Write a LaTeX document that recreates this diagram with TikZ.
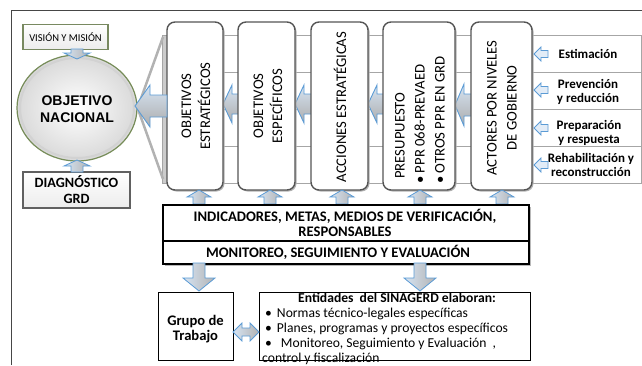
\documentclass[tikz,border=0pt]{standalone}
\usepackage{fontspec}
\setmainfont{Carlito}
\newfontfamily\arialf{Liberation Sans}
\usetikzlibrary{shadows,shapes.geometric}
\definecolor{arrblue}{RGB}{91,155,213}
\definecolor{arrlight}{RGB}{214,228,243}
\definecolor{colborder}{RGB}{85,85,85}
\definecolor{circborder}{RGB}{118,140,88}
\definecolor{framegray}{RGB}{70,70,70}
\newcommand\myHarrow[7]{% style, tip x, centre y, length, head length, head half, shaft half
  \path[#1] (#2,#3) -- ({#2+#5},{#3-#6}) -- ({#2+#5},{#3-#7}) -- ({#2+#4},{#3-#7})
    -- ({#2+#4},{#3+#7}) -- ({#2+#5},{#3+#7}) -- ({#2+#5},{#3+#6}) -- cycle;}
\newcommand\myVarrow[7]{% style, centre x, tip y, length, head length, head half, shaft half
  \path[#1] (#2,#3) -- ({#2+#6},{#3+#5}) -- ({#2+#7},{#3+#5}) -- ({#2+#7},{#3+#4})
    -- ({#2-#7},{#3+#4}) -- ({#2-#7},{#3+#5}) -- ({#2-#6},{#3+#5}) -- cycle;}
\begin{document}
\begin{tikzpicture}[x=1pt,y=-1pt,
  colbox/.style={draw=colborder, line width=1.4pt, rounded corners=8pt, fill=white,
    minimum height=168pt, inner sep=0pt,
    drop shadow={shadow xshift=1.5pt, shadow yshift=-1.5pt, fill=gray!60, opacity=1}},
  coltext/.style={rotate=90, align=center, font=\fontsize{14.7}{19}\selectfont, inner sep=0pt},
  sidelabel/.style={align=center, font=\bfseries\fontsize{13}{14}\selectfont, inner sep=0pt},
  bigarr/.style={draw=arrblue, line width=0.9pt, top color=arrlight, bottom color=gray!65},
  uparr/.style={draw=arrblue, line width=0.8pt, left color=arrlight, right color=gray!60},
  hollowarr/.style={draw=arrblue, line width=0.8pt, fill=arrlight!70},
  rowline/.style={draw=gray!70, line width=0.9pt},
  greybox/.style={draw=gray!75!black, line width=1.6pt, top color=white, bottom color=gray!15,
    inner sep=0pt},
  mainbox/.style={draw=black, line width=1.6pt, fill=white, inner sep=0pt,
    drop shadow={shadow xshift=2pt, shadow yshift=-2pt, fill=gray!55, opacity=1}},
  plainbox/.style={draw=black, line width=1.2pt, fill=white, inner sep=0pt},
  boldtxt/.style={align=center, font=\bfseries\fontsize{14.6}{15}\selectfont, inner sep=0pt}
]
\useasboundingbox (0,0) rectangle (642,365);
% outer frame
\draw[framegray, line width=0.8pt] (11,365) -- (11,10) -- (642,10);

% rows behind columns
\node[draw=gray!70, line width=0.9pt, fill=white, anchor=north west,
  minimum width=479pt, minimum height=148pt, inner sep=0pt] (rows) at (162,35) {};
\draw[rowline] (162,72) -- (641,72);
\draw[rowline] (162,109) -- (641,109);
\draw[rowline] (162,146) -- (641,146);
\fill[gray!40, draw=gray!70] (162,35) rectangle (167,183);

% circle and side boxes
\node[ellipse, draw=circborder, line width=1.2pt, inner color=white, outer color=gray!30,
  minimum width=120pt, minimum height=106pt, inner sep=0pt] (on) at (77,108) {};
\draw[gray!35, line width=2pt] (77,108) ellipse (57pt and 50pt);
\node[font=\arialf\bfseries\fontsize{14}{17}\selectfont, align=center, inner sep=0pt]
  (ontext) at (77,109) {OBJETIVO\\NACIONAL};

\draw[gray!60, line width=2.5pt] (on.east) -- (163,37);
\draw[gray!60, line width=2.5pt] (on.east) -- (163,179);

\node[greybox, draw=circborder!80!gray, minimum width=85pt, minimum height=25pt,
  font=\fontsize{10.5}{12}\selectfont] (vm) at (65.5,37) {VISIÓN Y MISIÓN};
\node[greybox, minimum width=107pt, minimum height=36pt,
  font=\bfseries\fontsize{14.2}{16}\selectfont, align=center] (dg) at (76.5,190) {DIAGNÓSTICO\\GRD};

\myVarrow{uparr}{77}{59}{-10}{-6}{13}{6}
\myVarrow{uparr}{77}{160}{12}{6}{13}{6}

% arrows between columns (drawn before columns)
\myHarrow{bigarr}{223}{104}{24}{9}{19}{10}
\myHarrow{bigarr}{295}{104}{24}{9}{19}{10}
\myHarrow{bigarr}{368}{104}{24}{9}{19}{10}
\myHarrow{bigarr}{455}{105}{24}{9}{21}{11}

% columns
\node[colbox, minimum width=56pt] (c1) at (195,106) {};
\node[colbox, minimum width=57pt] (c2) at (266.5,106) {};
\node[colbox, minimum width=57pt] (c3) at (339.5,106) {};
\node[colbox, minimum width=72pt] (c4) at (419,106) {};
\node[colbox, minimum width=61pt] (c5) at (501.5,106) {};

\node[coltext] (t1) at (196,106) {OBJETIVOS\\ESTRATÉGICOS};
\node[coltext] (t2) at (268,106) {OBJETIVOS\\ESPECÍFICOS};
\node[coltext] (t3) at (340,107) {ACCIONES ESTRATÉGICAS};
\node[coltext, align=left, font=\fontsize{14.7}{20}\selectfont] (t4) at (420,120)
  {\makebox[124pt][c]{\hspace*{-28pt}PRESUPUESTO}\\• PPR 068-PREVAED\\• OTROS PPR EN GRD};
\node[coltext, font=\fontsize{14.7}{20}\selectfont] (t5) at (502,108) {ACTORES POR NIVELES\\DE GOBIERNO};

% big arrow to the circle
\myHarrow{bigarr}{135}{106}{32}{15}{21}{11}

% right-hand labels
\node[sidelabel] (l1) at (588,54) {Estimación};
\node[sidelabel] (l2) at (588,92) {Prevención\\y reducción};
\node[sidelabel] (l3) at (589,133) {Preparación\\y respuesta};
\node[sidelabel] (l4) at (591,165) {Rehabilitación y\\reconstrucción};
\myHarrow{hollowarr}{534}{54}{14}{7}{7}{3.5}
\myHarrow{hollowarr}{534}{90}{14}{7}{7}{3.5}
\myHarrow{hollowarr}{534}{128}{14}{7}{7}{3.5}
\myHarrow{hollowarr}{534}{165}{14}{7}{7}{3.5}

% up arrows below the columns
\myVarrow{uparr}{199}{190}{14}{7}{12}{6}
\myVarrow{uparr}{270}{190}{14}{7}{12}{6}
\myVarrow{uparr}{342}{190}{14}{7}{12}{6}
\myVarrow{uparr}{420}{190}{14}{7}{12}{6}
\myVarrow{uparr}{502}{190}{14}{7}{12}{6}

% indicators box
\node[mainbox, anchor=north west, minimum width=366pt, minimum height=59pt] (ind) at (162,204) {};
\draw[black, line width=1.4pt] (162,241) -- (528,241);
\node[boldtxt] (indt) at (345,222.5) {INDICADORES, METAS, MEDIOS DE VERIFICACIÓN,\\RESPONSABLES};
\node[boldtxt] (mon) at (338,252) {MONITOREO, SEGUIMIENTO Y EVALUACIÓN};

% down arrows
\myVarrow{uparr}{199}{291}{-28}{-13}{16}{6}
\myVarrow{uparr}{420}{291}{-28}{-13}{16}{6}

% bottom boxes
\node[plainbox, anchor=north west, minimum width=75pt, minimum height=68pt] (grp) at (158,292) {};
\node[boldtxt] (grpt) at (195.5,329) {Grupo de\\Trabajo};
\node[plainbox, anchor=north west, minimum width=271pt, minimum height=68pt] (ent) at (259,292) {};
\node[font=\bfseries\fontsize{13.6}{14}\selectfont, inner sep=0pt] (entt) at (397,298)
  {Entidades~ del SINAGERD elaboran:};
\node[anchor=north west, align=left, font=\fontsize{13.6}{15.1}\selectfont, inner sep=0pt]
  (entl) at (262,307.5)
  {\hspace*{3pt}•\hspace{5pt}Normas técnico-legales específicas\\
   \hspace*{3pt}•\hspace{5pt}Planes, programas y proyectos específicos\\
   \hspace*{3pt}•\hspace{9pt}Monitoreo, Seguimiento y Evaluación~ ,\\
   control y fiscalización};

% double arrow between bottom boxes
\path[uparr] (233,332) -- (242,323) -- (242,328) -- (250,328) -- (250,323) -- (259,332)
  -- (250,341) -- (250,336) -- (242,336) -- (242,341) -- cycle;
\end{tikzpicture}
\end{document}
